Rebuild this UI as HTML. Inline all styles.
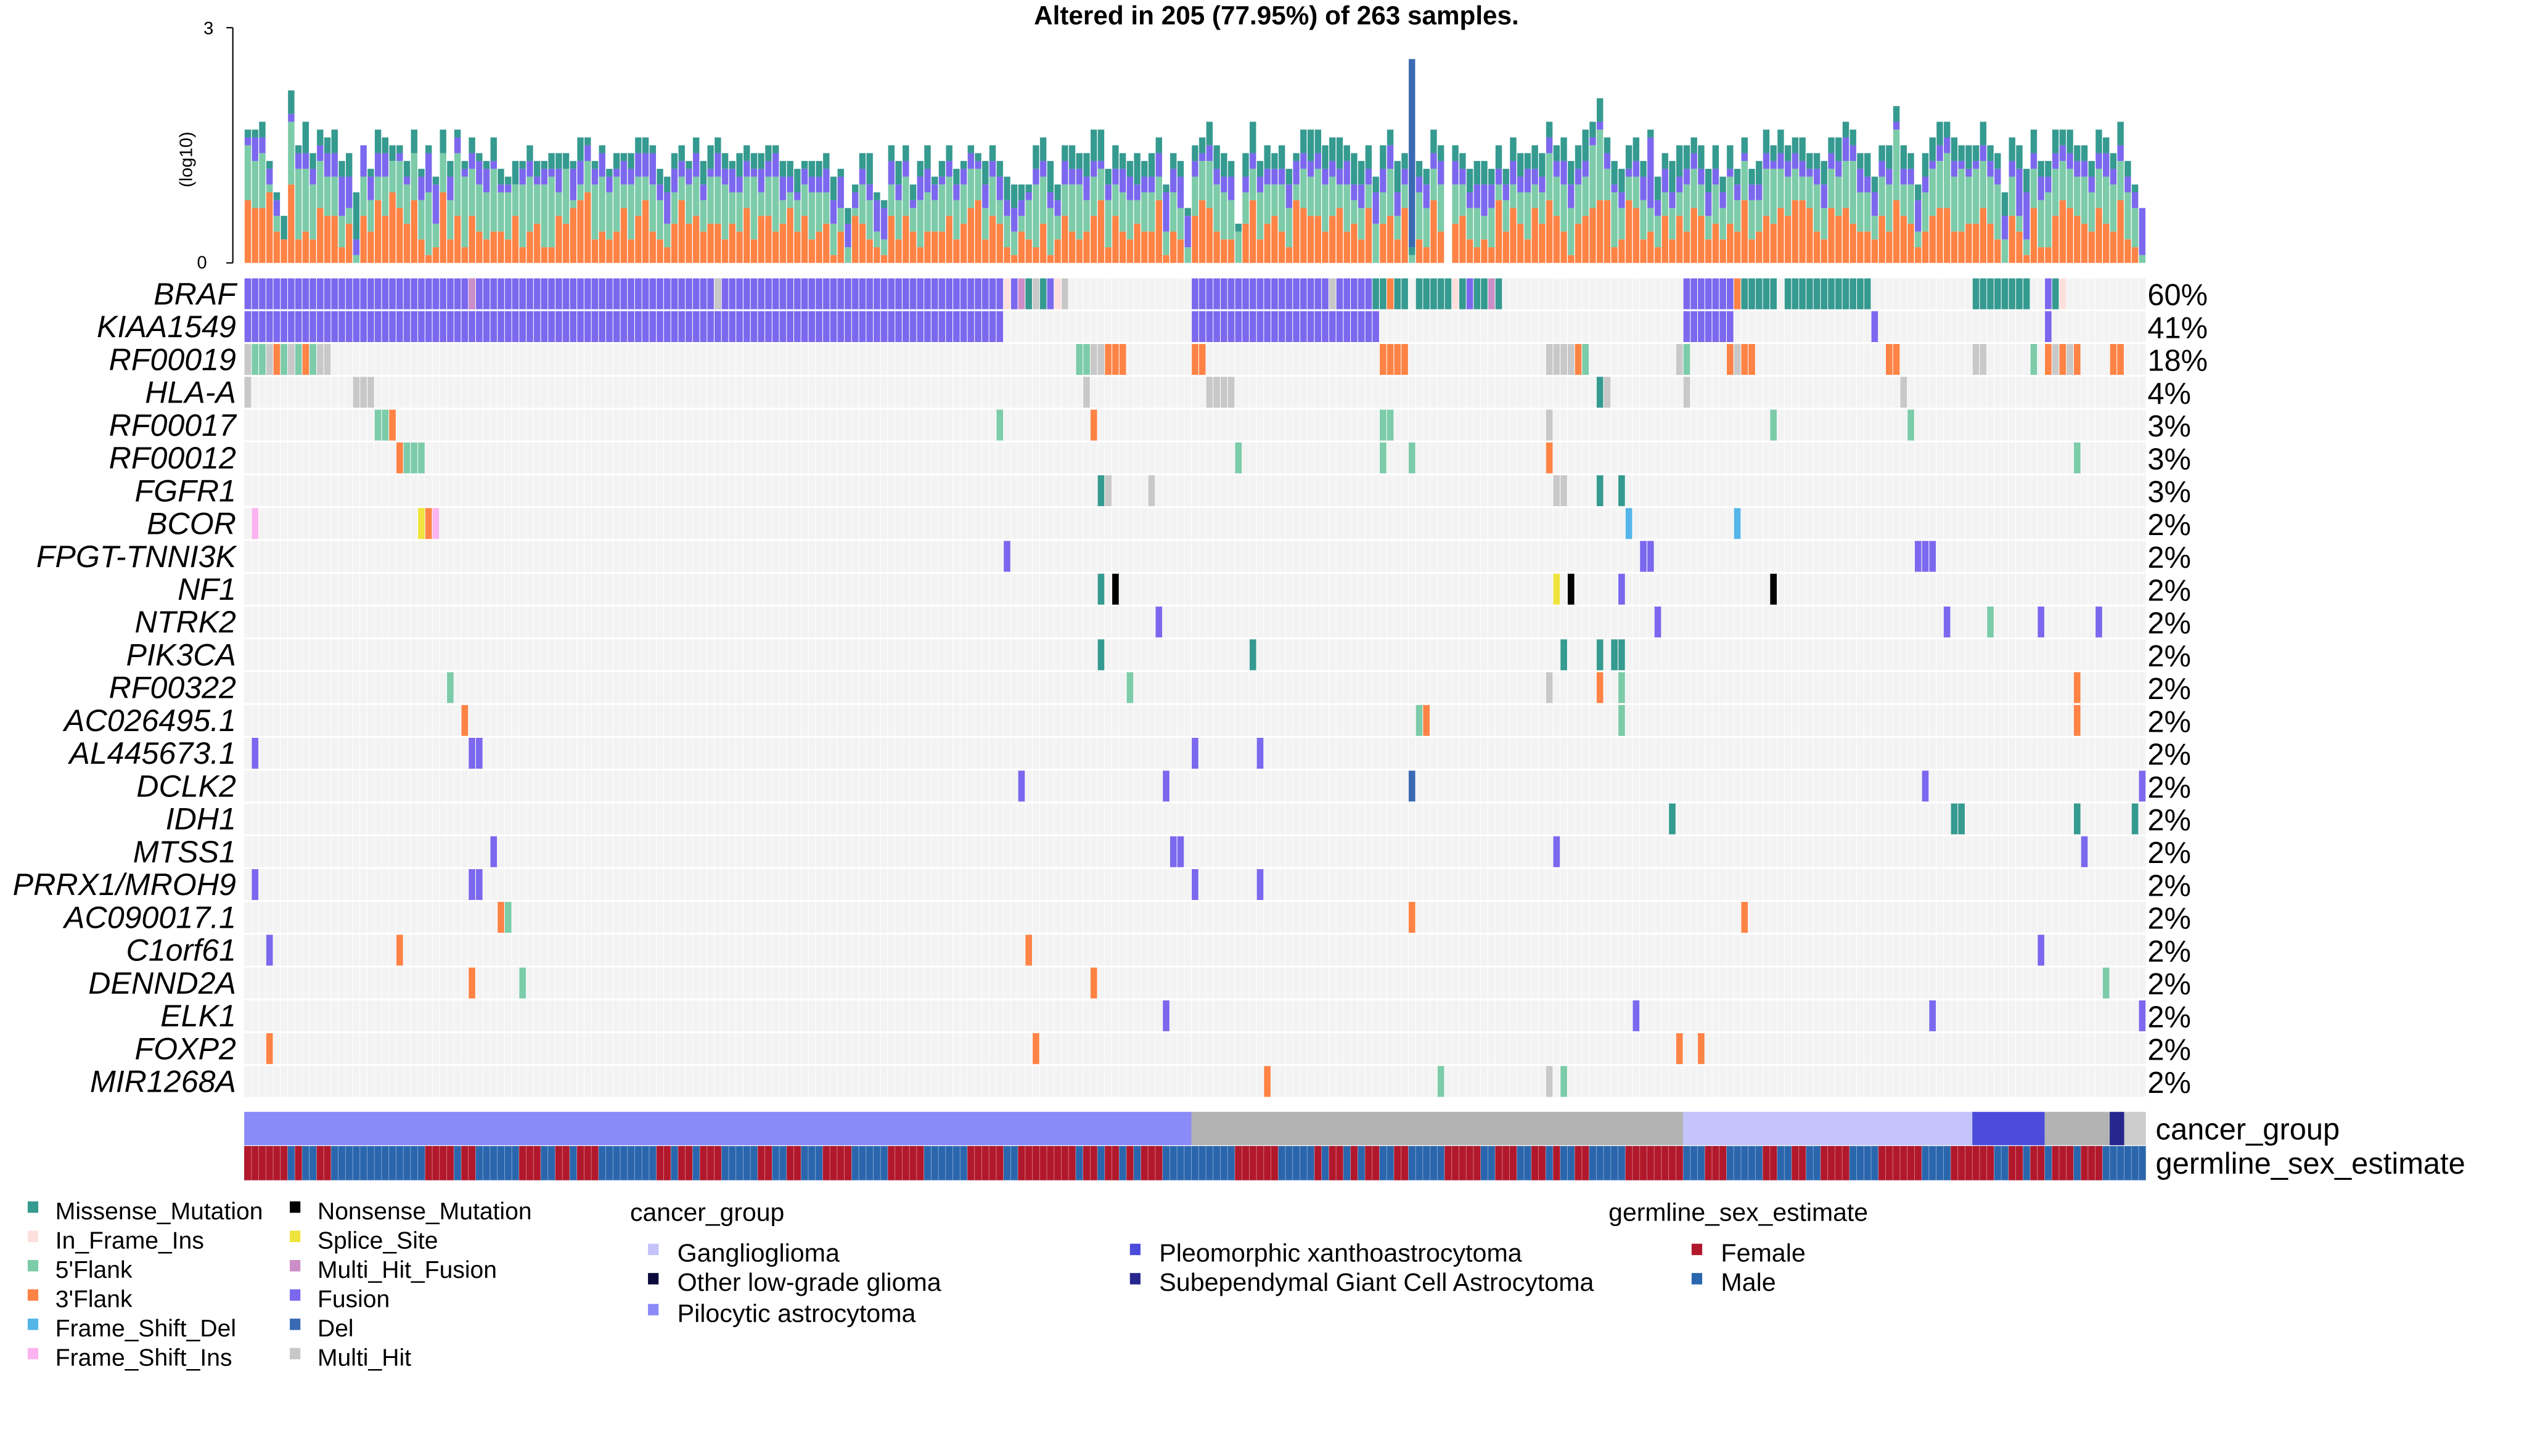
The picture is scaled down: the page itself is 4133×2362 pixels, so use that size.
<!DOCTYPE html>
<html><head><meta charset="utf-8">
<style>
html,body{margin:0;padding:0;background:#fff;}
svg{display:block;font-family:"Liberation Sans",Arial,sans-serif;}
</style></head>
<body>
<svg id="chart" xmlns="http://www.w3.org/2000/svg" width="4133" height="2362" viewBox="0 0 1565 894.4">
<rect x="0" y="0" width="1565" height="894.4" fill="#fff"/>
<text x="784" y="15" text-anchor="middle" font-size="16" font-weight="bold">Altered in 205 (77.95%) of 263 samples.</text>
<g id="topbars"></g>
<g id="yaxis">
<line x1="143" y1="17" x2="143" y2="161.5" stroke="#000" stroke-width="0.8"/>
<line x1="139" y1="17" x2="143" y2="17" stroke="#000" stroke-width="0.8"/>
<line x1="139" y1="161.5" x2="143" y2="161.5" stroke="#000" stroke-width="0.8"/>
<text x="125" y="21" font-size="11">3</text>
<text x="121" y="165" font-size="11">0</text>
<text transform="translate(118,98) rotate(-90)" text-anchor="middle" font-size="11">(log10)</text>
</g>
<g id="matrix"></g>
<g id="tracks"></g>
<g id="legend"></g>
</svg>
<script>
const N = 263;
const genes = ["BRAF","KIAA1549","RF00019","HLA-A","RF00017","RF00012","FGFR1","BCOR","FPGT-TNNI3K","NF1","NTRK2","PIK3CA","RF00322","AC026495.1","AL445673.1","DCLK2","IDH1","MTSS1","PRRX1/MROH9","AC090017.1","C1orf61","DENND2A","ELK1","FOXP2","MIR1268A"];
const pcts = ["60%","41%","18%","4%","3%","3%","3%","2%","2%","2%","2%","2%","2%","2%","2%","2%","2%","2%","2%","2%","2%","2%","2%","2%","2%"];
// top barplot values (tenths of log10 axis unit), per sample
const flank3 = [8,7,7,9,4,3,10,3,4,3, 7,6,6,2,5,0,6,4,8,6, 9,7,5,8,3,1,2,9,3,6, 2,6,4,3,4,4,3,6,2,4, 5,2,2,6,5,7,8,9,3,4, 3,4,7,3,6,8,4,3,2,5, 8,5,6,4,5,5,3,5,4,7, 3,6,6,4,5,7,4,6,3,4, 5,1,4,0,6,5,3,2,1,6, 3,6,4,2,4,4,4,6,3,5, 7,8,3,6,5,2,1,4,3,2, 5,1,3,6,4,3,4,6,8,2, 6,4,3,5,4,4,8,1,4,3, 0,6,8,7,4,3,3,0,5,8, 3,5,6,4,2,8,7,6,6,4, 6,7,4,5,3,7,0,5,6,3, 7,0,3,2,8,4,0,5,6,3, 2,3,2,8,4,7,5,3,7,5, 8,6,4,1,5,6,7,8,8,2, 3,8,7,3,4,2,6,3,6,4, 7,6,3,5,3,5,4,8,3,4, 6,5,7,6,8,8,7,4,3,7, 6,7,5,4,4,3,6,4,8,6, 5,2,4,6,7,7,4,4,5,5, 7,5,3,0,6,4,1,7,2,2, 6,8,7,6,5,4,7,5,4,8, 3,2,0];
const flank5 = [7,6,7,1,2,0,8,9,8,7, 6,5,5,4,2,1,5,4,3,5, 4,6,5,6,5,8,3,5,5,8, 9,6,6,6,8,5,6,4,8,7, 5,8,9,3,7,1,2,4,7,7, 6,7,3,7,5,3,6,5,3,4, 3,5,5,4,6,6,7,4,5,4, 8,3,5,7,3,2,4,4,6,5, 4,4,3,2,1,5,5,2,2,4, 5,5,3,6,5,4,6,5,5,5, 5,4,4,5,3,4,3,2,5,8, 6,6,3,4,6,7,4,5,4,6, 4,5,5,3,5,5,3,3,5,4, 2,5,5,6,6,6,5,4,4,4, 6,5,4,6,5,2,5,5,6,6, 5,3,6,3,4,3,5,4,6,3, 3,1,6,5,4,6,0,5,4,4, 5,3,5,2,4,3,4,6,3,4, 6,5,6,6,5,5,8,9,4,7, 4,3,4,5,3,4,3,4,3,6, 5,4,3,5,4,6,4,5,5,4, 6,7,5,5,4,3,4,6,4,5, 5,6,8,5,5,3,5,6,9,4, 5,2,5,6,6,7,7,8,6,7, 6,6,7,3,5,2,2,5,6,7, 6,5,5,5,6,5,5,6,6,5, 6,5,1];
const fusionV = [1,3,2,2,2,0,1,2,2,2, 2,3,3,5,4,2,4,3,3,3, 0,1,1,0,3,5,5,0,3,2, 1,2,3,3,1,1,1,0,2,2, 1,2,1,3,0,4,3,2,2,3, 2,1,3,2,3,3,4,2,4,3, 2,2,3,2,1,3,2,3,2,2, 1,3,2,3,3,2,1,2,2,2, 3,3,4,3,2,2,2,4,4,3, 2,2,1,3,3,2,1,2,2,2, 2,1,3,2,3,2,3,2,1,2, 2,2,2,3,2,2,3,2,1,2, 2,3,3,2,2,2,3,5,3,4, 4,2,1,2,2,2,3,0,2,2, 2,2,2,2,3,3,2,2,2,2, 2,2,3,2,3,2,4,3,3,3, 2,0,2,3,2,3,0,3,2,2, 3,4,3,2,2,3,2,3,2,2, 2,2,3,3,2,2,1,1,2,1, 2,1,2,3,9,2,3,2,2,2, 2,2,3,2,2,1,2,1,2,2, 2,1,2,2,2,2,1,2,3,2, 2,3,2,3,2,3,2,2,1,2, 2,4,2,1,2,2,2,1,1,1, 2,2,2,3,2,6,6,2,3,2, 2,2,2,2,2,2,2,3,2,2, 2,2,6];
const missense = [1,1,2,1,1,3,3,1,4,2, 2,2,3,2,3,6,0,1,3,2, 2,1,2,3,1,1,1,3,2,1, 1,2,1,1,3,2,1,3,1,2, 2,1,2,2,2,1,3,1,1,1, 1,2,1,2,2,2,1,2,2,2, 2,1,2,3,3,2,2,1,3,2, 2,2,2,1,2,2,3,1,2,2, 2,3,1,2,1,2,4,1,1,2, 3,2,2,2,3,1,2,2,2,1, 1,1,3,2,2,3,3,2,1,3, 3,4,2,2,3,2,3,4,4,2, 3,2,2,4,2,3,2,1,2,2, 1,2,2,3,3,3,2,1,3,4, 2,3,2,3,2,1,3,4,3,3, 3,4,2,4,3,3,2,3,2,4, 2,1,2,2,3,2,0,2,2,3, 3,3,2,3,2,3,3,2,3,3, 2,2,3,3,3,4,2,3,2,3, 3,3,3,2,1,3,2,4,4,3, 2,3,3,3,2,3,2,2,2,3, 3,2,3,2,2,3,2,2,3,2, 3,2,2,2,3,2,2,3,2,3, 2,2,3,3,3,2,3,2,3,2, 3,2,2,3,3,3,3,3,2,2, 3,2,3,2,2,2,3,2,2,3, 2,1,0];
const delSamples = [161];
const delValues = [24];
// matrix events: [gene, firstSample, lastSample, type]
const events = [
 ["BRAF",0,104,"Fusion"],["BRAF",31,31,"Multi_Hit_Fusion"],["BRAF",65,65,"Multi_Hit"],
 ["BRAF",105,105,"In_Frame_Ins"],["BRAF",106,106,"Fusion"],["BRAF",107,107,"Multi_Hit_Fusion"],["BRAF",108,108,"Missense_Mutation"],["BRAF",109,109,"Multi_Hit"],["BRAF",110,110,"Missense_Mutation"],["BRAF",111,111,"Fusion"],["BRAF",112,112,"In_Frame_Ins"],["BRAF",113,113,"Multi_Hit"],
 ["BRAF",131,149,"Fusion"],["BRAF",150,150,"Multi_Hit"],["BRAF",151,155,"Fusion"],["BRAF",156,157,"Missense_Mutation"],["BRAF",158,158,"3'Flank"],["BRAF",159,160,"Missense_Mutation"],["BRAF",162,166,"Missense_Mutation"],["BRAF",167,167,"In_Frame_Ins"],["BRAF",168,168,"Missense_Mutation"],["BRAF",169,169,"Fusion"],["BRAF",170,171,"Missense_Mutation"],["BRAF",172,172,"Multi_Hit_Fusion"],["BRAF",173,173,"Missense_Mutation"],
 ["BRAF",199,205,"Fusion"],["BRAF",206,206,"3'Flank"],["BRAF",207,211,"Missense_Mutation"],["BRAF",213,224,"Missense_Mutation"],["BRAF",239,246,"Missense_Mutation"],["BRAF",249,249,"Fusion"],["BRAF",250,250,"Missense_Mutation"],["BRAF",251,251,"In_Frame_Ins"],
 ["KIAA1549",0,104,"Fusion"],["KIAA1549",131,156,"Fusion"],["KIAA1549",199,205,"Fusion"],["KIAA1549",225,225,"Fusion"],["KIAA1549",249,249,"Fusion"],
 ["RF00019",0,0,"Multi_Hit"],["RF00019",1,2,"5'Flank"],["RF00019",3,3,"Multi_Hit"],["RF00019",4,4,"3'Flank"],["RF00019",5,5,"5'Flank"],["RF00019",6,6,"Multi_Hit"],["RF00019",7,7,"5'Flank"],["RF00019",8,8,"3'Flank"],["RF00019",9,9,"5'Flank"],["RF00019",10,11,"Multi_Hit"],
 ["RF00019",115,116,"5'Flank"],["RF00019",117,118,"Multi_Hit"],["RF00019",119,121,"3'Flank"],["RF00019",131,132,"3'Flank"],["RF00019",157,160,"3'Flank"],["RF00019",180,183,"Multi_Hit"],["RF00019",184,184,"3'Flank"],["RF00019",185,185,"5'Flank"],["RF00019",198,198,"Multi_Hit"],["RF00019",199,199,"5'Flank"],["RF00019",205,205,"3'Flank"],["RF00019",206,206,"Multi_Hit"],["RF00019",207,208,"3'Flank"],["RF00019",227,228,"3'Flank"],["RF00019",239,240,"Multi_Hit"],["RF00019",247,247,"5'Flank"],["RF00019",249,249,"3'Flank"],["RF00019",250,250,"Multi_Hit"],["RF00019",251,251,"3'Flank"],["RF00019",252,252,"Multi_Hit"],["RF00019",253,253,"3'Flank"],["RF00019",258,259,"3'Flank"],
 ["HLA-A",0,0,"Multi_Hit"],["HLA-A",15,17,"Multi_Hit"],["HLA-A",116,116,"Multi_Hit"],["HLA-A",133,136,"Multi_Hit"],["HLA-A",187,187,"Missense_Mutation"],["HLA-A",188,188,"Multi_Hit"],["HLA-A",199,199,"Multi_Hit"],["HLA-A",229,229,"Multi_Hit"],
 ["RF00017",18,19,"5'Flank"],["RF00017",20,20,"3'Flank"],["RF00017",104,104,"5'Flank"],["RF00017",117,117,"3'Flank"],["RF00017",157,158,"5'Flank"],["RF00017",180,180,"Multi_Hit"],["RF00017",211,211,"5'Flank"],["RF00017",230,230,"5'Flank"],
 ["RF00012",21,21,"3'Flank"],["RF00012",22,24,"5'Flank"],["RF00012",137,137,"5'Flank"],["RF00012",157,157,"5'Flank"],["RF00012",161,161,"5'Flank"],["RF00012",180,180,"3'Flank"],["RF00012",253,253,"5'Flank"],
 ["FGFR1",118,118,"Missense_Mutation"],["FGFR1",119,119,"Multi_Hit"],["FGFR1",125,125,"Multi_Hit"],["FGFR1",181,182,"Multi_Hit"],["FGFR1",187,187,"Missense_Mutation"],["FGFR1",190,190,"Missense_Mutation"],
 ["BCOR",1,1,"Frame_Shift_Ins"],["BCOR",24,24,"Splice_Site"],["BCOR",25,25,"3'Flank"],["BCOR",26,26,"Frame_Shift_Ins"],["BCOR",191,191,"Frame_Shift_Del"],["BCOR",206,206,"Frame_Shift_Del"],
 ["FPGT-TNNI3K",105,105,"Fusion"],["FPGT-TNNI3K",193,194,"Fusion"],["FPGT-TNNI3K",231,233,"Fusion"],
 ["NF1",118,118,"Missense_Mutation"],["NF1",120,120,"Nonsense_Mutation"],["NF1",181,181,"Splice_Site"],["NF1",183,183,"Nonsense_Mutation"],["NF1",190,190,"Fusion"],["NF1",211,211,"Nonsense_Mutation"],
 ["NTRK2",126,126,"Fusion"],["NTRK2",195,195,"Fusion"],["NTRK2",235,235,"Fusion"],["NTRK2",241,241,"5'Flank"],["NTRK2",248,248,"Fusion"],["NTRK2",256,256,"Fusion"],
 ["PIK3CA",118,118,"Missense_Mutation"],["PIK3CA",139,139,"Missense_Mutation"],["PIK3CA",182,182,"Missense_Mutation"],["PIK3CA",187,187,"Missense_Mutation"],["PIK3CA",189,190,"Missense_Mutation"],
 ["RF00322",28,28,"5'Flank"],["RF00322",122,122,"5'Flank"],["RF00322",180,180,"Multi_Hit"],["RF00322",187,187,"3'Flank"],["RF00322",190,190,"5'Flank"],["RF00322",253,253,"3'Flank"],
 ["AC026495.1",30,30,"3'Flank"],["AC026495.1",162,162,"5'Flank"],["AC026495.1",163,163,"3'Flank"],["AC026495.1",190,190,"5'Flank"],["AC026495.1",253,253,"3'Flank"],
 ["AL445673.1",1,1,"Fusion"],["AL445673.1",31,32,"Fusion"],["AL445673.1",131,131,"Fusion"],["AL445673.1",140,140,"Fusion"],
 ["DCLK2",107,107,"Fusion"],["DCLK2",127,127,"Fusion"],["DCLK2",161,161,"Del"],["DCLK2",232,232,"Fusion"],["DCLK2",262,262,"Fusion"],
 ["IDH1",197,197,"Missense_Mutation"],["IDH1",236,237,"Missense_Mutation"],["IDH1",253,253,"Missense_Mutation"],["IDH1",261,261,"Missense_Mutation"],
 ["MTSS1",34,34,"Fusion"],["MTSS1",128,129,"Fusion"],["MTSS1",181,181,"Fusion"],["MTSS1",254,254,"Fusion"],
 ["PRRX1/MROH9",1,1,"Fusion"],["PRRX1/MROH9",31,32,"Fusion"],["PRRX1/MROH9",131,131,"Fusion"],["PRRX1/MROH9",140,140,"Fusion"],
 ["AC090017.1",35,35,"3'Flank"],["AC090017.1",36,36,"5'Flank"],["AC090017.1",161,161,"3'Flank"],["AC090017.1",207,207,"3'Flank"],
 ["C1orf61",3,3,"Fusion"],["C1orf61",21,21,"3'Flank"],["C1orf61",108,108,"3'Flank"],["C1orf61",248,248,"Fusion"],
 ["DENND2A",31,31,"3'Flank"],["DENND2A",38,38,"5'Flank"],["DENND2A",117,117,"3'Flank"],["DENND2A",257,257,"5'Flank"],
 ["ELK1",127,127,"Fusion"],["ELK1",192,192,"Fusion"],["ELK1",233,233,"Fusion"],["ELK1",262,262,"Fusion"],
 ["FOXP2",3,3,"3'Flank"],["FOXP2",109,109,"3'Flank"],["FOXP2",198,198,"3'Flank"],["FOXP2",201,201,"3'Flank"],
 ["MIR1268A",141,141,"3'Flank"],["MIR1268A",165,165,"5'Flank"],["MIR1268A",180,180,"Multi_Hit"],["MIR1268A",182,182,"5'Flank"]
];
// annotation tracks
const cancerSegments = [[0,130,"Pilocytic astrocytoma"],[131,198,"NA"],[199,238,"Ganglioglioma"],[239,248,"Pleomorphic xanthoastrocytoma"],[249,257,"NA"],[258,259,"Subependymal Giant Cell Astrocytoma"],[260,262,"NA2"]];
const femaleRanges = [[0,3],[4,4],[5,5],[7,7],[10,11],[25,28],[30,31],[38,40],[43,44],[46,48],[57,58],[60,61],[63,65],[71,72],[75,76],[80,83],[89,93],[100,104],[107,114],[116,116],[117,117],[119,120],[122,122],[124,126],[137,142],[148,148],[150,151],[153,153],[155,156],[159,160],[166,170],[173,175],[178,179],[181,181],[184,185],[191,193],[194,198],[202,204],[210,211],[214,215],[218,221],[226,231],[236,241],[244,245],[247,248],[250,252],[254,256]];

const COL = {"Missense_Mutation":"#359a90","In_Frame_Ins":"#fde0dd","5'Flank":"#7ccba9","3'Flank":"#fe8345","Frame_Shift_Del":"#54b5e8","Frame_Shift_Ins":"#fbb4f0","Nonsense_Mutation":"#000000","Splice_Site":"#efe43c","Multi_Hit_Fusion":"#cc8ec6","Fusion":"#7b68ee","Del":"#3a6ab4","Multi_Hit":"#c8c8c8"};
const CG = {"Ganglioglioma":"#c4c4fa","Other low-grade glioma":"#0a0a3c","Pilocytic astrocytoma":"#8a8af8","Pleomorphic xanthoastrocytoma":"#4b4bdc","Subependymal Giant Cell Astrocytoma":"#26268e","NA":"#b3b3b3","NA2":"#cccccc"};

const NS = "http://www.w3.org/2000/svg";
const X0 = 150, X1 = 1318, SW = (X1 - X0) / N;
const xS = i => X0 + i * SW;
const Y0 = 161.5, PXT = 144.5 / 30;
const yV = v => Y0 - v * PXT;
const ROW0 = 171, RH = 20.16;
const rowY = g => ROW0 + genes.indexOf(g) * RH;
function mk(tag, attrs, parent) { const e = document.createElementNS(NS, tag); for (const k in attrs) e.setAttribute(k, attrs[k]); parent.appendChild(e); return e; }

// top bars
const tb = document.getElementById("topbars");
for (let i = 0; i < N; i++) {
  let base = 0;
  const segs = [[flank3[i], "3'Flank"], [flank5[i], "5'Flank"], [fusionV[i], "Fusion"], [missense[i], "Missense_Mutation"]];
  const di = delSamples.indexOf(i);
  if (di >= 0) segs.push([delValues[di], "Del"]);
  for (const [v, t] of segs) {
    if (v <= 0) continue;
    const r = mk("rect", {x: xS(i) + 0.25, y: yV(base + v), width: SW - 0.5, height: v * PXT, fill: COL[t]}, tb);
    
    
    base += v;
  }
}

// matrix background
const mx = document.getElementById("matrix");
genes.forEach((g, gi) => {
  const y = ROW0 + gi * RH;
  const bg = mk("rect", {x: X0, y: y, width: X1 - X0, height: RH - 1.2, fill: "#f3f3f3"}, mx);
  
  
  const lab = mk("text", {x: 145, y: y + 16, "text-anchor": "end", "font-size": "19", "font-style": "italic"}, mx);
  lab.textContent = g;
  
  
  const pc = mk("text", {x: 1319, y: y + 16.5, "font-size": "18.5"}, mx);
  pc.textContent = pcts[gi];
  
  
});
// column separators
let d = "";
for (let i = 1; i < N; i++) d += "M" + xS(i).toFixed(2) + " " + ROW0 + "V" + (ROW0 + genes.length * RH);
mk("path", {d: d, stroke: "#ffffff", "stroke-width": "0.35", fill: "none"}, mx);
events.forEach(([g, a, b, t]) => {
  for (let i = a; i <= b; i++) {
    const r = mk("rect", {x: xS(i) + 0.2, y: rowY(g), width: SW - 0.4, height: RH - 1.2, fill: COL[t]}, mx);
    
    
  }
});

// tracks
const tr = document.getElementById("tracks");
cancerSegments.forEach(([a, b, c]) => {
  const r = mk("rect", {x: xS(a), y: 683, width: (b - a + 1) * SW, height: 20.5, fill: CG[c]}, tr);
  
  
});
const male = mk("rect", {x: X0, y: 704, width: X1 - X0, height: 21, fill: "#2a66ad"}, tr);


femaleRanges.forEach(([a, b]) => {
  const r = mk("rect", {x: xS(a), y: 704, width: (b - a + 1) * SW, height: 21, fill: "#b2182b"}, tr);
  
  
});
let d2 = "";
for (let i = 1; i < N; i++) d2 += "M" + xS(i).toFixed(2) + " 704V725";
mk("path", {d: d2, stroke: "#ffffff", "stroke-width": "0.3", "stroke-opacity": "0.5", fill: "none"}, tr);
[["cancer_group", 700], ["germline_sex_estimate", 721]].forEach(([t, y]) => {
  const e = mk("text", {x: 1324, y: y, "font-size": "18.5"}, tr);
  e.textContent = t;
  
  
});

// legend
const lg = document.getElementById("legend");
const leg1 = [["Missense_Mutation","Nonsense_Mutation"],["In_Frame_Ins","Splice_Site"],["5'Flank","Multi_Hit_Fusion"],["3'Flank","Fusion"],["Frame_Shift_Del","Del"],["Frame_Shift_Ins","Multi_Hit"]];
leg1.forEach((pair, r) => {
  pair.forEach((t, c) => {
    const x = c === 0 ? 17 : 178, y = 738 + r * 18;
    const s = mk("rect", {x: x, y: y, width: 6.5, height: 7, fill: COL[t]}, lg);
    
    
    const tx = mk("text", {x: x + 17, y: y + 11, "font-size": "14.8"}, lg);
    tx.textContent = t;
    
    
  });
});
const cgLeg = [["Ganglioglioma",398,764],["Other low-grade glioma",398,782],["Pilocytic astrocytoma",398,801],["Pleomorphic xanthoastrocytoma",694,764],["Subependymal Giant Cell Astrocytoma",694,782]];
const t1 = mk("text", {x: 387, y: 750, "font-size": "15.5"}, lg);
t1.textContent = "cancer_group";


cgLeg.forEach(([t, x, y]) => {
  const s = mk("rect", {x: x, y: y, width: 6.5, height: 7, fill: CG[t]}, lg);
  
  
  const tx = mk("text", {x: x + 18, y: y + 11, "font-size": "15.6"}, lg);
  tx.textContent = t;
  
  
});
const t2 = mk("text", {x: 988, y: 750, "font-size": "15.5"}, lg);
t2.textContent = "germline_sex_estimate";


[["Female","#b2182b",764],["Male","#2a66ad",782]].forEach(([t, c, y]) => {
  const s = mk("rect", {x: 1039, y: y, width: 6.5, height: 7, fill: c}, lg);
  
  
  const tx = mk("text", {x: 1057, y: y + 11, "font-size": "15.6"}, lg);
  tx.textContent = t;
  
  
});
</script>
</body></html>
